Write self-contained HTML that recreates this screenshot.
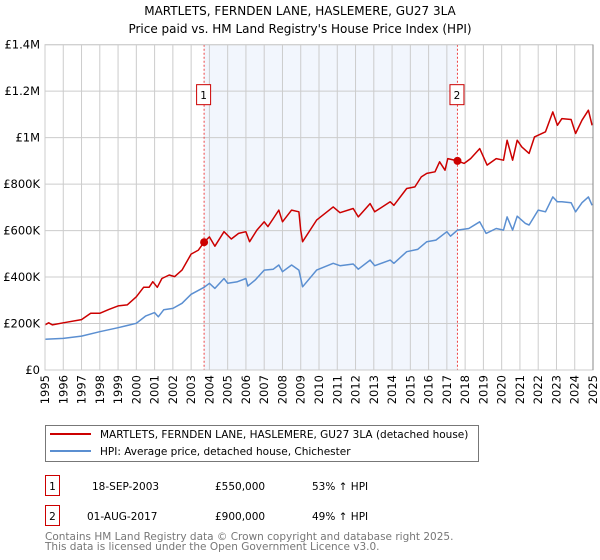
<!DOCTYPE html>
<html><head><meta charset="utf-8">
<style>
body{margin:0;background:#fff;font-family:"DejaVu Sans","Liberation Sans",sans-serif;}
#wrap{position:relative;width:600px;height:560px;overflow:hidden;}
svg text{font-family:"DejaVu Sans","Liberation Sans",sans-serif;}
</style></head><body>
<div id="wrap">
<svg id="chart" width="600" height="560" xmlns="http://www.w3.org/2000/svg">
<text x="300" y="15" text-anchor="middle" font-size="12" fill="#000">MARTLETS, FERNDEN LANE, HASLEMERE, GU27 3LA</text>
<text x="300" y="33" text-anchor="middle" font-size="12" fill="#000">Price paid vs. HM Land Registry's House Price Index (HPI)</text>
<g id="plot"></g>
<g>
<rect x="45.5" y="425.5" width="433" height="36" fill="#fff" stroke="#777"/>
<line x1="50" y1="434" x2="91" y2="434" stroke="#cc0000" stroke-width="2"/>
<text x="100" y="438" font-size="10.5">MARTLETS, FERNDEN LANE, HASLEMERE, GU27 3LA (detached house)</text>
<line x1="50" y1="451" x2="91" y2="451" stroke="#5b8fd1" stroke-width="2"/>
<text x="100" y="455" font-size="10.5">HPI: Average price, detached house, Chichester</text>
</g>
<g>
<rect x="45.5" y="475.5" width="14" height="20" fill="#fff" stroke="#cc0000"/>
<text x="52.5" y="490" text-anchor="middle" font-size="10.5">1</text>
<text x="92" y="490" font-size="10.5">18-SEP-2003</text>
<text x="215" y="490" font-size="10.5">£550,000</text>
<text x="312" y="490" font-size="10.5">53% ↑ HPI</text>
<rect x="45.5" y="505.5" width="14" height="20" fill="#fff" stroke="#cc0000"/>
<text x="52.5" y="520" text-anchor="middle" font-size="10.5">2</text>
<text x="87" y="520" font-size="10.5">01-AUG-2017</text>
<text x="215" y="520" font-size="10.5">£900,000</text>
<text x="312" y="520" font-size="10.5">49% ↑ HPI</text>
</g>
<text x="45" y="540" font-size="10.5" fill="#777">Contains HM Land Registry data © Crown copyright and database right 2025.</text>
<text x="45" y="550" font-size="10.5" fill="#777">This data is licensed under the Open Government Licence v3.0.</text>
</svg>
</div>
<script>
const yTicks=[0,200000,400000,600000,800000,1000000,1200000,1400000];
const yTickLabels=["£0","£200K","£400K","£600K","£800K","£1M","£1.2M","£1.4M"];
const xYears=[1995,1996,1997,1998,1999,2000,2001,2002,2003,2004,2005,2006,2007,2008,2009,2010,2011,2012,2013,2014,2015,2016,2017,2018,2019,2020,2021,2022,2023,2024,2025];
const saleDates=[2003.71,2017.58];
const salePrices=[550000,900000];
const saleLabels=["1","2"];
const hpiDates=[1995.0,1996.0,1997.0,1998.0,1999.0,2000.0,2000.5,2001.0,2001.2,2001.5,2002.0,2002.5,2003.0,2003.71,2004.0,2004.3,2004.8,2005.0,2005.5,2006.0,2006.1,2006.5,2007.0,2007.5,2007.8,2008.0,2008.5,2008.9,2009.1,2009.87,2010.78,2011.15,2011.87,2012.15,2012.8,2013.05,2013.9,2014.1,2014.8,2015.4,2015.9,2016.4,2017.0,2017.2,2017.58,2018.2,2018.8,2019.15,2019.7,2020.1,2020.3,2020.6,2020.85,2021.3,2021.5,2022.0,2022.4,2022.8,2023.05,2023.3,2023.8,2024.05,2024.4,2024.75,2024.95];
const hpiValues=[132000,136000,146000,165000,182000,201000,232000,247000,229000,259000,265000,287000,326000,356000,373000,351000,394000,373000,379000,394000,361000,387000,430000,434000,452000,423000,452000,430000,358000,430000,459000,449000,456000,434000,473000,449000,473000,459000,509000,519000,552000,559000,595000,576000,602000,609000,638000,588000,609000,602000,659000,602000,662000,631000,624000,688000,681000,745000,724000,724000,720000,681000,720000,745000,709000];
const priceDates=[1995.0,1995.2,1995.4,1996.0,1997.0,1997.5,1998.0,1998.5,1999.0,1999.5,2000.0,2000.4,2000.7,2000.9,2001.15,2001.4,2001.8,2002.1,2002.5,2003.0,2003.4,2003.71,2004.0,2004.3,2004.8,2005.2,2005.6,2006.0,2006.2,2006.6,2007.0,2007.2,2007.5,2007.8,2008.0,2008.5,2008.9,2009.0,2009.1,2009.87,2010.78,2011.15,2011.87,2012.15,2012.8,2013.05,2013.9,2014.1,2014.8,2015.25,2015.6,2015.9,2016.35,2016.6,2016.9,2017.05,2017.58,2017.95,2018.3,2018.8,2019.2,2019.7,2020.1,2020.3,2020.6,2020.85,2021.1,2021.5,2021.8,2022.4,2022.8,2023.05,2023.3,2023.8,2024.05,2024.4,2024.75,2024.95];
const priceValues=[194000,203000,194000,203000,217000,244000,244000,261000,276000,280000,315000,356000,356000,380000,356000,394000,409000,402000,430000,499000,516000,550000,573000,533000,595000,564000,588000,595000,552000,602000,638000,617000,652000,688000,638000,688000,681000,602000,552000,645000,702000,677000,695000,659000,716000,681000,724000,709000,781000,788000,831000,846000,853000,896000,860000,910000,900000,889000,910000,953000,882000,910000,903000,989000,903000,989000,960000,932000,1003000,1025000,1111000,1053000,1082000,1078000,1018000,1075000,1118000,1053000];

const svg=document.getElementById('chart');
const plot=document.getElementById('plot');
const NS='http://www.w3.org/2000/svg';
const X0=45,X1=593,Y0=370,Y1=44.7;
const xMin=1995,xMax=2025,yMin=0,yMax=1400000;
function xs(v){return X0+(v-xMin)/(xMax-xMin)*(X1-X0);}
function ys(v){return Y0-(v-yMin)/(yMax-yMin)*(Y0-Y1);}
function mk(tag,attrs){const e=document.createElementNS(NS,tag);for(const k in attrs)e.setAttribute(k,attrs[k]);plot.appendChild(e);return e;}

// shaded region between sales
let sh=mk('rect',{x:xs(saleDates[0]),y:Y1,width:xs(saleDates[1])-xs(saleDates[0]),height:Y0-Y1,fill:'#eef3fc',opacity:0.75});



// grid
yTicks.forEach((t,i)=>{
  let l=mk('line',{x1:X0,x2:X1,y1:ys(t),y2:ys(t),stroke:'#cccccc','stroke-width':1});
  
  
  let tx=mk('text',{x:40,y:ys(t)+4,'text-anchor':'end','font-size':'11.5',fill:'#000'});
  tx.textContent=yTickLabels[i];
  
  
});
xYears.forEach(yr=>{
  let l=mk('line',{x1:xs(yr),x2:xs(yr),y1:Y1,y2:Y0,stroke:'#cccccc','stroke-width':1});
  
  
  let tx=mk('text',{x:0,y:0,'text-anchor':'end','font-size':'11.5',fill:'#000',transform:'translate('+(xs(yr)+4)+',375) rotate(-90)'});
  tx.textContent=String(yr);
  
  
});

// sale vertical lines
saleDates.forEach((d,i)=>{
  let l=mk('line',{x1:xs(d),x2:xs(d),y1:Y1,y2:Y0,stroke:'#ee4444','stroke-width':1,'stroke-dasharray':'2,2'});
  
  
  let r=mk('rect',{x:xs(d)-7.5,y:ys(1200000)-6.5,width:14,height:20,fill:'#fff',stroke:'#cc0000'});
  
  
  let t=mk('text',{x:xs(d)-0.5,y:ys(1200000)+8,'text-anchor':'middle','font-size':'10.5'});
  t.textContent=saleLabels[i];
  
  
});

function pathOf(ds,vs){return ds.map((d,i)=>(i?'L':'M')+xs(d).toFixed(1)+','+ys(vs[i]).toFixed(1)).join(' ');}
let hp=mk('path',{d:pathOf(hpiDates,hpiValues),fill:'none',stroke:'#5b8fd1','stroke-width':1.5,'stroke-linejoin':'round'});


let pp=mk('path',{d:pathOf(priceDates,priceValues),fill:'none',stroke:'#cc0000','stroke-width':1.5,'stroke-linejoin':'round'});



saleDates.forEach((d,i)=>{
  let c=mk('circle',{cx:xs(d),cy:ys(salePrices[i]),r:4,fill:'#cc0000'});
  
  
});

// axes frame
let fr=mk('rect',{x:X0,y:Y1,width:X1-X0,height:Y0-Y1,fill:'none',stroke:'#cccccc'});


let ra=mk('line',{x1:X1,x2:X1,y1:Y1,y2:Y0,stroke:'#888'});


</script>
</body></html>
